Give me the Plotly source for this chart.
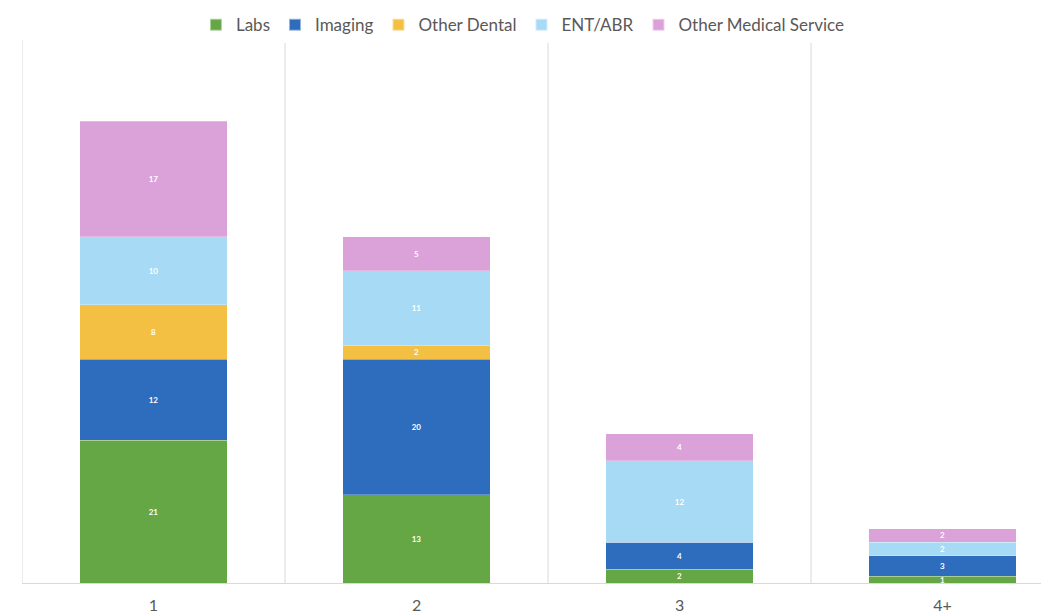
import plotly.graph_objects as go

categories = ["1", "2", "3", "4+"]
labs = [21, 13, 2, 1]
imaging = [12, 20, 4, 3]
other_dental = [8, 2, 0, 0]
ent_abr = [10, 11, 12, 2]
other_medical = [17, 5, 4, 2]

series = [
    ("Labs", labs, "#65A744"),
    ("Imaging", imaging, "#2E6DBD"),
    ("Other Dental", other_dental, "#F4C043"),
    ("ENT/ABR", ent_abr, "#A6DAF5"),
    ("Other Medical Service", other_medical, "#DAA2D8"),
]

xpos = list(range(len(categories)))
fig = go.Figure()
for name, vals, color in series:
    fig.add_trace(go.Bar(
        x=xpos, y=vals, name=name,
        marker=dict(color=color, line=dict(color="rgba(255,255,255,0.5)", width=0.5)),
        text=[str(v) if v else "" for v in vals],
        textposition="inside", insidetextanchor="middle", textangle=0,
        constraintext="none",
        textfont=dict(color="white", size=8, family="Lato", weight="bold"),
        width=0.56,
    ))

shapes = []
for b in [-0.5, 0.5, 1.5, 2.5]:
    shapes.append(dict(type="line", xref="x", yref="y", x0=b, x1=b, y0=0, y1=80,
                       line=dict(color="#D9D9D9", width=1), layer="below"))

fig.update_layout(
    barmode="stack",
    width=1049, height=616,
    margin=dict(l=14, r=0, t=32, b=41, autoexpand=False),
    plot_bgcolor="white", paper_bgcolor="white",
    font=dict(family="Lato", color="#595959"),
    showlegend=True,
    legend=dict(orientation="h", x=0.484, xanchor="center", y=0.994, yanchor="bottom",
                font=dict(size=17, color="#595959"), traceorder="normal",
                itemwidth=30, itemsizing="constant"),
    shapes=shapes,
    uniformtext=dict(minsize=8, mode="show"),
)
fig.update_xaxes(range=[-0.5, 3.435], tickvals=xpos, ticktext=categories,
                 showgrid=False, zeroline=False, showline=True, linecolor="#D9D9D9",
                 tickfont=dict(size=16, color="#595959"), ticks="", fixedrange=True,
                 automargin=False, ticklabelstandoff=8)
fig.update_yaxes(range=[0, 80], showgrid=False, zeroline=False, showticklabels=False,
                 showline=False, automargin=False)

fig.write_html("out.html")
